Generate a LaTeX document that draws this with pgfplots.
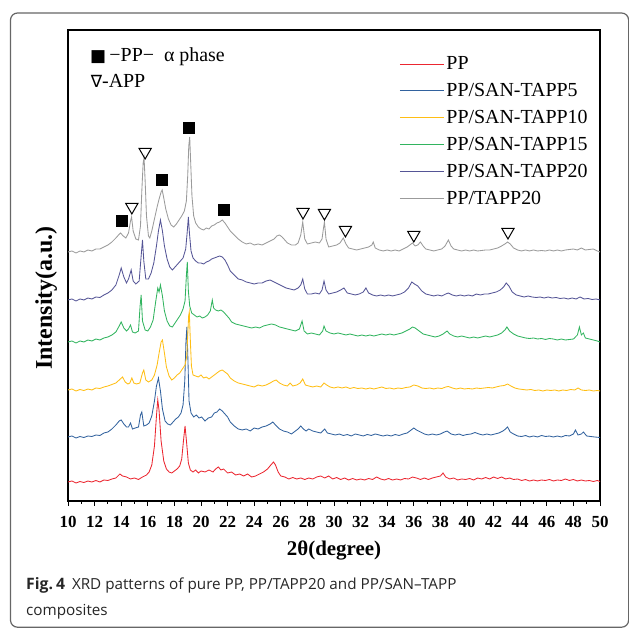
\documentclass[border=0pt]{standalone}
\usepackage{pgfplots}
\pgfplotsset{compat=1.18}
\usepackage{fontspec}
\setmainfont{Liberation Serif}
\newfontfamily\capfont{Open Sans}
\newfontfamily\symfont{DejaVu Sans}
\definecolor{cPP}{RGB}{235,38,48}
\definecolor{cS5}{RGB}{50,98,158}
\definecolor{cS10}{RGB}{255,190,20}
\definecolor{cS15}{RGB}{50,180,95}
\definecolor{cS20}{RGB}{85,85,150}
\definecolor{cT20}{RGB}{155,155,155}
\begin{document}
\begin{tikzpicture}[x=1bp,y=1bp]
\useasboundingbox (0,0) rectangle (629,628);
\draw[line width=1.2bp, black!60, rounded corners=7bp] (10.5,0.8) rectangle (628.6,615);
\node[anchor=base west, inner sep=0pt, font=\capfont\fontsize{15.3}{18}\selectfont, text=black!85] at (26,38) {{\bfseries\fontsize{15.8}{18}\selectfont Fig.\hspace{3bp}4}\hspace{7bp}XRD patterns of pure PP, PP/TAPP20 and PP/SAN–TAPP};
\node[anchor=base west, inner sep=0pt, font=\capfont\fontsize{15.3}{18}\selectfont, text=black!85] at (26,12) {composites};
\begin{axis}[
  at={(68bp,127bp)}, anchor=south west,
  scale only axis, width=532bp, height=471bp,
  xmin=10, xmax=50, ymin=0, ymax=471,
  xtick={10,12,...,50}, minor x tick num=1,
  ytick=\empty,
  xtick pos=left,
  tick align=outside,
  major tick length=5bp, minor tick length=3bp,
  axis line style={line width=1.3bp},
  every tick/.style={black, line width=1bp},
  /pgf/number format/assume math mode=true,
  xticklabel style={font=\bfseries\fontsize{17}{17}\selectfont, yshift=-7bp},
  xlabel={2θ(degree)},
  xlabel style={font=\bfseries\fontsize{21}{21}\selectfont, at={(rel axis cs:0.5,0)}, anchor=center, yshift=-49bp},
  ylabel={Intensity(a.u.)},
  ylabel style={font=\bfseries\fontsize{24}{24}\selectfont, at={(rel axis cs:-0.041,0.431)}, anchor=center},
  legend style={draw=none, fill=none, at={(rel axis cs:0.617,0.952)}, anchor=north west,
    font=\fontsize{20}{20}\selectfont, row sep=8.2bp},
  legend cell align=left,
  legend image code/.code={\draw[#1, line width=1bp] (0bp,0bp) -- (44bp,0bp);},
  every axis plot/.append style={line width=0.85bp},
]
\addplot[color=cPP] coordinates {
(10.0,19)(10.3,20)(10.6,18)(10.9,19.5)(11.2,18.5)(11.5,20)(11.8,19)(12.1,20.5)(12.4,19)(12.7,21)(13.0,20.5)(13.3,22)(13.6,23)(13.9,27)(14.1,25)(14.4,24)(14.7,22)(15.0,23)(15.3,21.5)(15.6,24)(15.9,26)(16.1,29)(16.3,36)(16.5,55)(16.65,85)(16.75,101)(16.85,90)(17.0,60)(17.2,40)(17.4,32)(17.6,29)(17.8,28)(18.0,30)(18.2,32)(18.4,35)(18.55,42)(18.68,60)(18.8,75)(18.92,58)(19.05,38)(19.2,31)(19.4,29)(19.6,31)(19.8,28)(20.0,30)(20.3,29)(20.6,31)(20.9,29)(21.1,32)(21.3,34)(21.5,31)(21.7,32)(22.0,28)(22.3,29)(22.6,26)(22.9,27)(23.2,25)(23.5,27)(23.8,24)(24.1,25)(24.4,27)(24.7,29)(25.0,32)(25.25,36)(25.45,39)(25.6,36)(25.8,29)(26.0,25)(26.3,24)(26.6,22)(26.9,23.5)(27.2,22)(27.5,23)(27.8,21.5)(28.1,23)(28.4,22)(28.7,24)(29.0,25)(29.3,23)(29.6,25)(29.9,22)(30.2,23.5)(30.5,21.5)(30.8,23)(31.1,21)(31.4,22.5)(31.7,21)(32.0,22)(32.3,21)(32.6,22.5)(32.9,21.5)(33.2,24)(33.5,22)(33.8,21)(34.1,22.5)(34.4,21)(34.7,22)(35.0,21)(35.3,22.5)(35.6,22)(35.9,24)(36.2,23)(36.5,21.5)(36.8,23)(37.1,21.5)(37.4,23)(37.7,24)(38.0,25)(38.2,28)(38.4,24)(38.7,22)(39.0,23)(39.3,21)(39.6,22)(39.9,21.5)(40.2,22.5)(40.5,21)(40.8,23)(41.1,22)(41.4,23.5)(41.7,22)(42.0,24)(42.3,22.5)(42.6,24)(42.9,22)(43.2,23)(43.5,21.5)(43.8,22)(44.1,20.5)(44.4,21.5)(44.7,20)(45.0,21)(45.3,20)(45.6,21)(45.9,20.5)(46.2,21.5)(46.5,20)(46.8,21)(47.1,20.5)(47.4,22)(47.7,20.5)(48.0,21.5)(48.3,20)(48.6,21)(48.9,20)(49.2,20.5)(49.5,19.5)(49.8,20.5)(50.0,19.5)
};
\addlegendentry{PP}
\addplot[color=cS5] coordinates {
(10.0,64)(10.3,65)(10.6,63)(10.9,64.5)(11.2,63.5)(11.5,65)(11.8,64.5)(12.1,66)(12.4,65.5)(12.7,68)(13.0,69)(13.3,72)(13.6,76)(13.85,80)(14.0,81)(14.2,77)(14.4,74)(14.55,74)(14.7,78)(14.85,72)(15.05,73)(15.3,74)(15.45,86)(15.55,89)(15.7,75)(15.9,76)(16.1,78)(16.3,85)(16.5,100)(16.65,115)(16.8,123)(16.95,110)(17.1,92)(17.3,80)(17.5,77)(17.7,76)(17.9,79)(18.1,82)(18.3,84)(18.5,88)(18.65,96)(18.78,120)(18.87,160)(18.94,174)(19.02,140)(19.1,100)(19.25,88)(19.45,84)(19.65,86)(19.85,83)(20.05,84)(20.3,80)(20.55,83)(20.8,84)(21.0,88)(21.2,89)(21.4,92)(21.6,90)(21.8,87)(22.0,84)(22.2,79)(22.5,75)(22.8,72)(23.1,71)(23.4,72)(23.7,70)(24.0,73)(24.3,72)(24.6,74)(24.9,75)(25.2,77)(25.4,79)(25.6,76)(25.9,72)(26.2,70)(26.5,69)(26.8,67)(27.1,70)(27.3,72)(27.5,75)(27.7,72)(27.9,70)(28.1,72)(28.4,70)(28.7,69)(29.0,68)(29.3,72)(29.5,68)(29.8,67)(30.1,66)(30.4,67)(30.7,65.5)(31.0,66.5)(31.3,65)(31.6,67)(31.9,66)(32.2,65)(32.5,66.5)(32.8,65.5)(33.1,67)(33.4,66)(33.7,65)(34.0,66)(34.3,65)(34.6,66.5)(34.9,65.5)(35.2,67)(35.5,68)(35.8,71)(36.0,73)(36.2,71)(36.5,69)(36.8,67)(37.1,66)(37.4,67)(37.7,66)(38.0,67)(38.3,69)(38.5,70)(38.8,67)(39.1,66)(39.4,67)(39.7,65.5)(40.0,66.5)(40.3,67)(40.6,68.5)(40.9,67)(41.2,66)(41.5,67)(41.8,66)(42.1,67)(42.4,68)(42.7,70)(42.9,72)(43.05,74)(43.25,69)(43.5,67)(43.8,65)(44.1,64.5)(44.4,65.5)(44.7,64)(45.0,65)(45.3,64)(45.6,65.5)(45.9,64.5)(46.2,65)(46.5,64)(46.8,65)(47.1,64)(47.4,65.5)(47.7,65)(48.0,67)(48.15,71)(48.35,66)(48.6,67)(48.75,69)(49.0,65)(49.3,64.5)(49.6,64)(50.0,63.5)
};
\addlegendentry{PP/SAN-TAPP5}
\addplot[color=cS10] coordinates {
(10.0,111)(10.3,112)(10.6,110)(10.9,111.5)(11.2,110.5)(11.5,112)(11.8,111)(12.1,113)(12.4,112.5)(12.7,114)(13.0,115)(13.3,116.5)(13.6,118)(13.85,121)(14.1,124)(14.3,119)(14.5,117)(14.65,118)(14.8,123)(14.95,118)(15.15,117)(15.4,118)(15.6,128)(15.7,131)(15.85,121)(16.05,119)(16.3,121)(16.5,126)(16.7,136)(16.85,148)(17.0,159)(17.1,161)(17.25,148)(17.4,134)(17.6,125)(17.8,121)(18.0,123)(18.2,126)(18.4,128)(18.6,132)(18.8,136)(18.93,145)(19.0,165)(19.07,185)(19.12,189)(19.2,160)(19.28,135)(19.4,126)(19.6,125)(19.8,124)(20.0,126)(20.2,123)(20.4,124)(20.6,122)(20.8,124)(21.0,126)(21.2,128)(21.4,130)(21.6,131)(21.8,129)(22.0,127)(22.2,123)(22.5,120)(22.8,118)(23.1,117)(23.4,116)(23.7,115)(24.0,114)(24.3,116)(24.6,115)(24.9,116)(25.2,118)(25.45,120)(25.65,121)(25.9,118)(26.2,116)(26.5,115)(26.7,118)(26.9,115)(27.2,116)(27.45,118)(27.65,122)(27.85,116)(28.1,115)(28.4,114)(28.7,115)(29.0,114)(29.25,118)(29.45,116)(29.7,114)(30.0,113)(30.3,114)(30.6,113)(30.9,114)(31.2,112.5)(31.5,113.5)(31.8,112.5)(32.1,113)(32.4,112)(32.7,113)(33.0,112)(33.3,113)(33.6,114)(33.9,112.5)(34.2,113)(34.5,112)(34.8,113)(35.1,112.5)(35.4,113.5)(35.7,114)(36.0,116)(36.3,115)(36.6,113)(36.9,112.5)(37.2,113)(37.5,112)(37.8,113)(38.1,112.5)(38.4,114)(38.6,114.5)(38.9,113)(39.2,112)(39.5,113)(39.8,112)(40.1,112.5)(40.4,112)(40.7,113)(41.0,112.5)(41.3,113)(41.6,113.5)(41.9,113)(42.2,114)(42.5,115)(42.8,115.5)(43.05,117)(43.3,115)(43.6,113)(43.9,112)(44.2,111.5)(44.5,111)(44.8,111.5)(45.1,110.5)(45.4,111)(45.7,110)(46.0,111)(46.3,110.5)(46.6,111)(46.9,110)(47.2,111)(47.5,110.5)(47.8,111.5)(48.1,111)(48.35,113)(48.6,111)(48.9,110.5)(49.2,111)(49.5,110)(49.8,110.5)(50.0,110)
};
\addlegendentry{PP/SAN-TAPP10}
\addplot[color=cS15] coordinates {
(10.0,159)(10.3,160)(10.6,158)(10.9,160)(11.2,159)(11.5,161)(11.8,160)(12.1,162)(12.4,161)(12.7,163)(13.0,164)(13.3,166)(13.6,169)(13.85,175)(14.0,179)(14.2,173)(14.4,170)(14.55,172)(14.7,176)(14.85,169)(15.05,168)(15.3,170)(15.42,195)(15.5,206)(15.6,180)(15.8,171)(16.0,170)(16.2,174)(16.4,181)(16.6,200)(16.75,213)(16.85,209)(16.95,216)(17.1,205)(17.25,190)(17.45,180)(17.65,175)(17.85,174)(18.05,178)(18.25,182)(18.45,186)(18.65,192)(18.8,200)(18.9,225)(18.97,239)(19.05,210)(19.15,195)(19.3,188)(19.5,186)(19.7,184)(19.9,185)(20.1,183)(20.3,184)(20.5,186)(20.7,190)(20.85,201)(20.95,193)(21.1,191)(21.3,190)(21.5,191)(21.7,189)(21.9,186)(22.1,183)(22.3,179)(22.6,177)(22.9,176)(23.2,175)(23.5,174)(23.8,173)(24.1,174)(24.4,173)(24.7,175)(25.0,176)(25.3,177)(25.6,176)(25.9,174)(26.2,173)(26.5,172)(26.8,171)(27.1,170)(27.4,172)(27.6,180)(27.75,170)(28.0,167)(28.3,168)(28.6,167)(28.9,166)(29.15,170)(29.25,175)(29.4,170)(29.7,168)(30.0,167)(30.3,168)(30.6,167)(30.9,166)(31.2,167)(31.5,166)(31.8,165)(32.1,166)(32.4,165)(32.7,166)(33.0,165)(33.3,166)(33.6,167)(33.9,166)(34.2,167)(34.5,166)(34.8,167)(35.1,168)(35.4,170)(35.7,172)(35.9,174)(36.1,173)(36.4,170)(36.7,167)(37.0,166)(37.3,165)(37.6,164)(37.9,165)(38.2,167)(38.5,170)(38.7,167)(39.0,165)(39.3,164)(39.6,165)(39.9,164)(40.2,163)(40.5,164)(40.8,163)(41.1,164)(41.4,165)(41.7,164)(42.0,165)(42.3,166)(42.6,168)(42.85,171)(43.0,174)(43.2,170)(43.5,167)(43.8,165)(44.1,164)(44.4,163)(44.7,162.5)(45.0,163)(45.3,162)(45.6,162.5)(45.9,161.5)(46.2,162.5)(46.5,162)(46.8,161)(47.1,162)(47.4,161)(47.7,161.5)(48.0,162)(48.3,166)(48.45,174)(48.6,166)(48.75,168)(48.9,163)(49.2,162)(49.5,161)(49.8,160)(50.0,159)
};
\addlegendentry{PP/SAN-TAPP15}
\addplot[color=cS20] coordinates {
(10.0,201)(10.3,202)(10.6,200)(10.9,202)(11.2,201)(11.5,203)(11.8,202)(12.1,204)(12.4,203.5)(12.7,206)(13.0,208)(13.3,211)(13.6,216)(13.85,226)(14.0,233)(14.2,224)(14.4,218)(14.55,222)(14.75,231)(14.9,220)(15.1,217)(15.35,220)(15.5,245)(15.6,261)(15.7,240)(15.85,222)(16.05,222)(16.25,228)(16.45,238)(16.65,255)(16.8,270)(16.95,281)(17.1,270)(17.25,255)(17.45,242)(17.65,234)(17.85,231)(18.05,234)(18.25,237)(18.45,240)(18.65,243)(18.85,252)(18.97,270)(19.05,284)(19.13,268)(19.25,250)(19.4,243)(19.6,240)(19.8,238)(20.0,238)(20.2,237)(20.4,239)(20.6,240)(20.8,242)(21.0,243)(21.2,244)(21.4,245)(21.6,244)(21.8,241)(22.0,236)(22.2,230)(22.5,226)(22.8,222)(23.1,221)(23.4,219)(23.7,218)(24.0,217)(24.3,218)(24.6,218)(24.9,220)(25.2,221)(25.5,219)(25.8,217)(26.1,215)(26.4,213)(26.7,212)(27.0,211)(27.3,213)(27.5,216)(27.65,222)(27.8,212)(28.0,207)(28.3,207)(28.6,208)(28.9,207)(29.1,211)(29.25,220)(29.4,211)(29.6,207)(29.9,208)(30.2,209)(30.5,211)(30.75,213)(31.0,208)(31.3,207)(31.6,206)(31.9,207)(32.2,209)(32.4,213)(32.6,208)(32.9,206)(33.2,205)(33.5,206)(33.8,205)(34.1,206)(34.4,205)(34.7,206)(35.0,207)(35.3,209)(35.6,213)(35.85,219)(36.05,217)(36.3,215)(36.6,210)(36.9,207)(37.2,206)(37.5,205)(37.8,206)(38.1,205)(38.4,207)(38.6,208)(38.9,206)(39.2,205)(39.5,206)(39.8,205)(40.1,206)(40.4,205)(40.7,207)(41.0,206)(41.3,207)(41.6,207)(41.9,208)(42.2,209)(42.5,211)(42.75,214)(42.95,218)(43.15,215)(43.4,209)(43.7,206)(44.0,205)(44.3,204)(44.6,205)(44.9,204)(45.2,203.5)(45.5,204)(45.8,203)(46.1,204)(46.4,203)(46.7,203.5)(47.0,202.5)(47.3,203)(47.6,202)(47.9,203)(48.2,202)(48.5,204)(48.8,202)(49.1,202.5)(49.4,201.5)(49.7,202)(50.0,201)
};
\addlegendentry{PP/SAN-TAPP20}
\addplot[color=cT20] coordinates {
(10.0,249)(10.3,250)(10.6,248)(10.9,250)(11.2,249)(11.5,251)(11.8,250)(12.1,252)(12.4,252)(12.7,254)(13.0,256)(13.3,259)(13.6,263)(13.8,266)(13.95,268)(14.15,265)(14.35,263)(14.55,268)(14.7,280)(14.78,284)(14.9,270)(15.1,262)(15.3,261)(15.45,275)(15.55,310)(15.65,338)(15.72,343)(15.8,320)(15.9,285)(16.05,265)(16.15,263)(16.3,270)(16.5,282)(16.7,294)(16.85,302)(17.0,309)(17.08,311)(17.2,303)(17.35,292)(17.55,282)(17.75,276)(17.95,274)(18.15,277)(18.35,281)(18.55,285)(18.75,290)(18.9,300)(19.0,325)(19.08,355)(19.15,364)(19.22,340)(19.32,305)(19.45,285)(19.6,278)(19.8,274)(20.0,272)(20.2,271)(20.4,273)(20.6,272)(20.8,275)(21.0,276)(21.2,278)(21.4,279)(21.6,281)(21.8,278)(22.0,274)(22.2,270)(22.5,266)(22.8,262)(23.1,259)(23.4,257)(23.7,258)(24.0,256)(24.3,257)(24.6,256)(24.9,258)(25.2,260)(25.5,262)(25.7,265)(25.9,266)(26.1,264)(26.3,261)(26.5,258)(26.8,256)(27.1,256)(27.3,258)(27.5,266)(27.65,279)(27.8,262)(28.0,257)(28.3,258)(28.6,259)(28.9,258)(29.1,262)(29.2,272)(29.28,279)(29.4,262)(29.6,254)(29.9,255)(30.2,256)(30.45,258)(30.7,263)(30.9,257)(31.1,253)(31.4,252)(31.7,251)(32.0,252)(32.3,253)(32.6,254)(32.85,256)(32.95,259)(33.1,253)(33.4,251)(33.7,250)(34.0,251)(34.3,250)(34.6,251)(34.9,250)(35.2,252)(35.5,254)(35.7,256)(35.9,258)(36.1,255)(36.3,256)(36.5,259)(36.7,255)(36.9,252)(37.2,251)(37.5,250)(37.8,251)(38.1,252)(38.35,255)(38.6,261)(38.8,255)(39.0,252)(39.3,251)(39.6,250)(39.9,251)(40.2,250)(40.5,251)(40.8,250)(41.1,250.5)(41.4,251)(41.7,251)(42.0,252)(42.3,253)(42.6,255)(42.85,257)(43.05,259)(43.25,257)(43.5,253)(43.8,251)(44.1,250)(44.4,251)(44.7,250)(45.0,251)(45.3,250)(45.6,250.5)(45.9,250)(46.2,251)(46.5,250)(46.8,251)(47.1,250)(47.4,251)(47.7,251.5)(48.0,252)(48.3,251)(48.6,253)(48.9,251)(49.2,251.5)(49.5,252)(49.8,250)(50.0,249)
};
\addlegendentry{PP/TAPP20}
\addplot[only marks, mark=square*, mark size=5.5bp, black, forget plot] coordinates {
(14.05,280)(17.08,321)(19.08,373)(21.75,291)
};
\addplot[only marks, mark=triangle, mark size=7bp, mark options={rotate=180, black, fill=white, line width=1bp}, forget plot] coordinates {
(14.8,294)(15.8,349)(27.67,289)(29.28,288)(30.86,271)(36.0,266)(43.08,269)
};
\node[anchor=base west, inner sep=0pt, font=\fontsize{20}{20}\selectfont] at (axis cs:11.65,439) {{\symfont\fontsize{17}{17}\selectfont ■}\,−PP−\ \ α phase};
\node[anchor=base west, inner sep=0pt, font=\fontsize{20}{20}\selectfont] at (axis cs:11.7,413) {{\symfont\fontsize{17}{17}\selectfont ∇}-APP};
\end{axis}
\end{tikzpicture}
\end{document}
